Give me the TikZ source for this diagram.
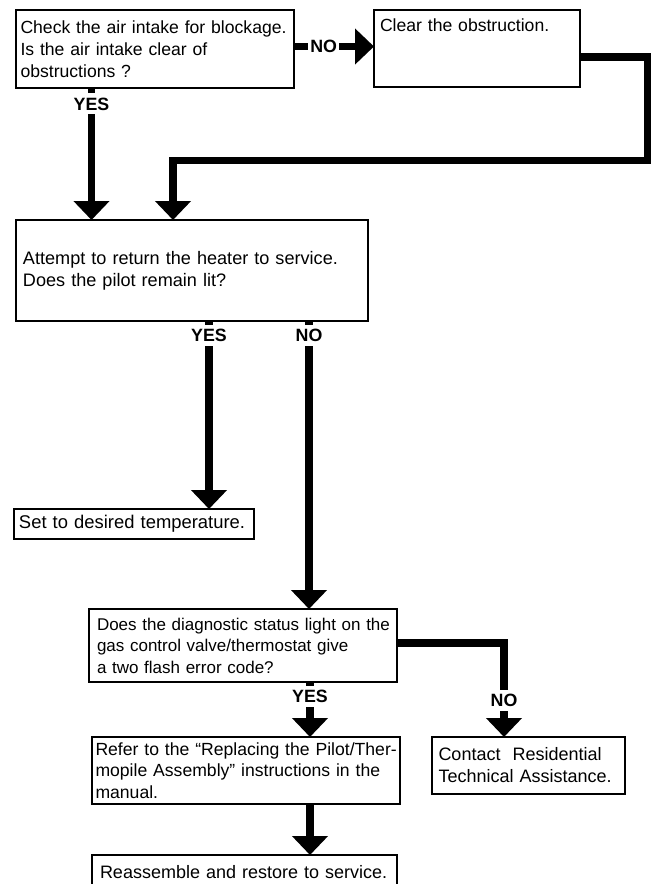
\documentclass[tikz,border=0pt]{standalone}
\usepackage{fontspec}
\setmainfont{Liberation Sans}
\usepackage{tikz}
\usetikzlibrary{positioning,arrows.meta}

\begin{document}
\begin{tikzpicture}[x=1pt, y=-1pt, box/.style={draw,line width=1.6pt,outer sep=0pt,anchor=north west,align=left,inner xsep=5pt,inner ysep=2pt,font=\fontsize{17.6pt}{22pt}\selectfont,execute at begin node={\rightskip=0pt plus 1fil minus 60pt\relax}}, heavy/.style={box,line width=2.5pt}, arr/.style={-{Triangle[width=35pt,length=19pt]},line width=7.5pt}, lbl/.style={fill=white,font=\fontsize{17.8pt}{22pt}\selectfont\bfseries,inner xsep=2.5pt,inner ysep=4pt,text height=12.7pt,text depth=0pt}]
\useasboundingbox (0,0) rectangle (652,884);
\node[box,inner xsep=4.5pt,text width=269pt,minimum height=78pt] (n0) at (16,10) {Check the air intake for blockage.\\Is the air intake clear of\\obstructions ?};
\node[box,inner xsep=6pt,text width=194pt,text height=19pt,text depth=54pt,right=80pt of n0.north east,anchor=north west] (n1) {Clear the obstruction.};
\node[box,inner xsep=7pt,text width=338pt,minimum height=101pt,font=\fontsize{18.1pt}{22pt}\selectfont,below=132pt of n0.south west,anchor=north west] (n2) {Attempt to return the heater to service.\\Does the pilot remain lit?};
\node[box,text width=230pt,minimum height=30pt,font=\fontsize{18.4pt}{22pt}\selectfont,below=188pt of n2.south west,anchor=north west,xshift=-2pt] (n3) {Set to desired temperature.};
\node[box,inner xsep=8pt,text width=292pt,minimum height=73pt,font=\fontsize{17pt}{21.5pt}\selectfont,below right=288pt and 73pt of n2.south west,anchor=north west] (n4) {Does the diagnostic status light on the\\gas control valve/thermostat give\\a two flash error code?};
\node[heavy,inner xsep=3.5pt,text width=301pt,minimum height=67pt,font=\fontsize{17.6pt}{21.5pt}\selectfont,below=55pt of n4.south west,anchor=north west,xshift=3pt] (n5) {Refer to the “Replacing the Pilot/Ther-\\mopile Assembly” instructions in the\\manual.};
\node[heavy,inner xsep=6.5pt,text width=180pt,minimum height=57pt,font=\fontsize{18pt}{22pt}\selectfont,right=32pt of n5.north east,anchor=north west] (n6) {Contact\ \ Residential\\Technical Assistance.};
\node[heavy,inner xsep=8pt,text width=289pt,minimum height=35pt,font=\fontsize{18pt}{22pt}\selectfont,below=51pt of n5.south west,anchor=north west] (n7) {Reassemble and restore to service.};
\coordinate (c0) at (647.5,160.5);
\draw[arr] ([xshift=-63.5pt]n0.south) -- node[lbl,pos=.12] {YES} ([xshift=-63.5pt]n0.south |- n2.north);
\draw[arr] ([yshift=2.5pt]n0.east) -- node[lbl,pos=.37] {NO} ([yshift=2.5pt]n0.east -| n1.west);
\draw[arr] ([yshift=-8.5pt]n1.east) -| (c0) -| ([xshift=-19pt]n2.north);
\draw[arr] ([xshift=17pt]n2.south) -- node[lbl,pos=.077] {YES} ([xshift=17pt]n2.south |- n3.north);
\draw[arr] ([xshift=117pt]n2.south) -- node[lbl,pos=.05] {NO} ([xshift=117pt]n2.south |- n4.north);
\draw[arr] ([xshift=67pt]n4.south) -- node[lbl,pos=.26] {YES} ([xshift=67pt]n4.south |- n5.north);
\draw[arr] ([yshift=2.5pt]n4.east) -| node[lbl,pos=.806] {NO} ([xshift=-24.5pt]n6.north);
\draw[arr] ([xshift=64pt]n5.south) -- ([xshift=64pt]n5.south |- n7.north);
\end{tikzpicture}
\end{document}
